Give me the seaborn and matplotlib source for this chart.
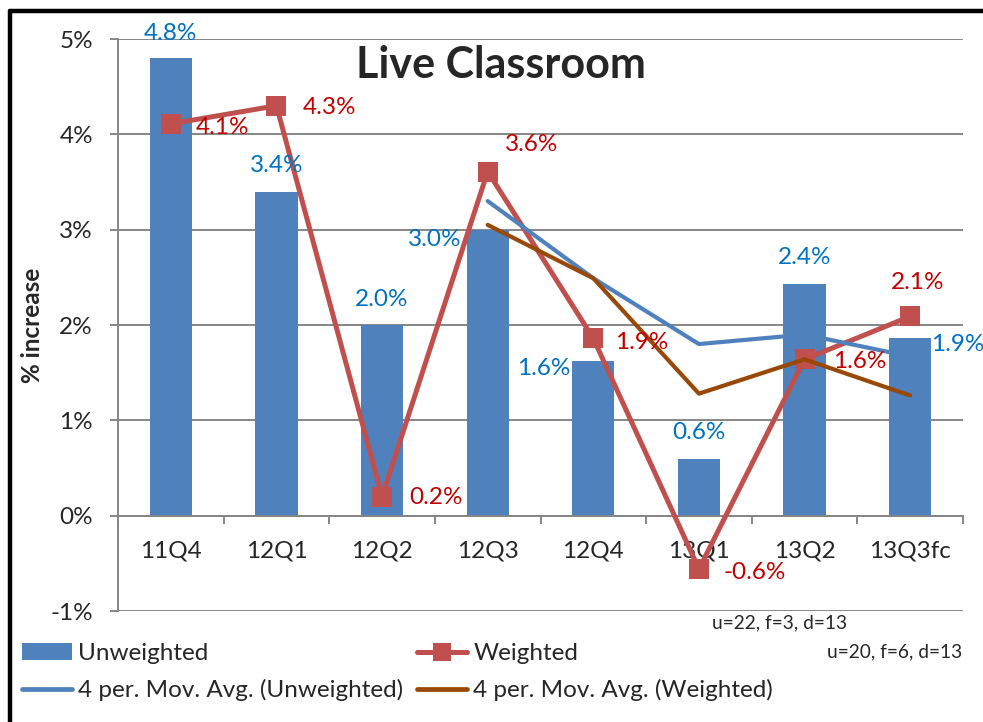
import numpy as np
import matplotlib
matplotlib.use("Agg")
import matplotlib.pyplot as plt
from matplotlib.lines import Line2D
from matplotlib.patches import Patch
import seaborn as sns

# ---- data -------------------------------------------------------------
quarters = ["11Q4", "12Q1", "12Q2", "12Q3", "12Q4", "13Q1", "13Q2", "13Q3fc"]
unweighted = [4.80, 3.40, 2.00, 3.00, 1.62, 0.59, 2.43, 1.86]
weighted = [4.11, 4.30, 0.20, 3.61, 1.86, -0.56, 1.64, 2.09]
ma_unweighted = [np.nan, np.nan, np.nan, 3.30, 2.49, 1.80, 1.90, 1.67]
ma_weighted = [np.nan, np.nan, np.nan, 3.05, 2.49, 1.28, 1.64, 1.26]
y_ticks = [-1, 0, 1, 2, 3, 4, 5]
sample_notes = ["u=22, f=3, d=13", "u=20, f=6, d=13"]

# ---- styling ----------------------------------------------------------
sns.set_style("white")
plt.rcParams["font.family"] = ["Lato", "DejaVu Sans"]

BAR = "#4F81BD"
RED = "#C0504D"
BROWN = "#984807"
LBL_BLUE = "#0070C0"
LBL_RED = "#C00000"
GRID = "#868686"
FS = 17.5

# label offsets in pixels (dx, dy up, horizontal alignment)
u_offsets = [(0, 25, "center"), (0, 26, "center"), (0, 25, "center"),
             (-53, -10, "center"), (-50, -7, "center"), (0, 27, "center"),
             (0, 27, "center"), (21, -6, "left")]
w_offsets = [(25, -4, "left"), (26, -2, "left"), (27, -1, "left"),
             (44, 27, "center"), (22, -4, "left"), (25, -3, "left"),
             (28, -2, "left"), (7, 34, "center")]

W, H = 983, 722
fig = plt.figure(figsize=(W / 100, H / 100), dpi=100)
ax = fig.add_axes([118 / W, 1 - 611 / H, 845 / W, 572 / H])

pos = np.arange(len(quarters))

sns.barplot(x=quarters, y=unweighted, color=BAR, saturation=1, width=0.4,
            ax=ax, zorder=2, linewidth=0)

sns.lineplot(x=pos, y=weighted, color=RED, linewidth=3.6, marker="s",
             markersize=14.5, markeredgewidth=0, ax=ax, zorder=3)

mu = np.array(ma_unweighted)
mw = np.array(ma_weighted)
ok_u = ~np.isnan(mu)
ok_w = ~np.isnan(mw)
sns.lineplot(x=pos[ok_u], y=mu[ok_u], color=BAR, linewidth=3.0, ax=ax, zorder=4)
sns.lineplot(x=pos[ok_w], y=mw[ok_w], color=BROWN, linewidth=3.0, ax=ax, zorder=4)

# data labels
for i, (v, (dx, dy, ha)) in enumerate(zip(unweighted, u_offsets)):
    ax.annotate(f"{v:.1f}%", xy=(i, v), xytext=(dx, dy),
                textcoords="offset pixels", ha=ha, va="center",
                color=LBL_BLUE, fontsize=FS, zorder=6, annotation_clip=False)
for i, (v, (dx, dy, ha)) in enumerate(zip(weighted, w_offsets)):
    ax.annotate(f"{v:.1f}%", xy=(i, v), xytext=(dx, dy),
                textcoords="offset pixels", ha=ha, va="center",
                color=LBL_RED, fontsize=FS, zorder=6, annotation_clip=False)

# axes
ax.set_xlim(-0.5, len(quarters) - 0.5)
ax.set_ylim(-1, 5)
ax.set_yticks(y_ticks)
ax.set_yticklabels([f"{t}%" for t in y_ticks])
ax.yaxis.grid(True, color=GRID, linewidth=1.4, zorder=0)
ax.xaxis.grid(False)
ax.set_axisbelow(True)

for s in ["top", "right"]:
    ax.spines[s].set_visible(False)
ax.spines["left"].set_color(GRID)
ax.spines["left"].set_linewidth(1.4)
ax.spines["bottom"].set_position(("data", 0))
ax.spines["bottom"].set_color(GRID)
ax.spines["bottom"].set_linewidth(1.4)

ax.tick_params(axis="y", which="major", left=True, length=6, width=1.4,
               color=GRID, labelsize=FS, pad=12, direction="out")
ax.set_xticks(pos)
ax.set_xticklabels(quarters)
ax.set_xticks(np.arange(-0.5, len(quarters), 1.0), minor=True)
ax.tick_params(axis="x", which="major", length=0, labelsize=FS, pad=18)
ax.tick_params(axis="x", which="minor", bottom=True, length=6, width=1.4,
               color=GRID, direction="out")
ax.set_xlabel("")

ax.set_ylabel("% increase", fontsize=FS, fontweight="bold")
ax.yaxis.set_label_coords(-0.087, 0.5)

# title
fig.text(501 / W, 1 - 78 / H, "Live Classroom", ha="center", va="baseline",
         fontsize=31, fontweight="bold")

# sample size notes
fig.text(847 / W, 1 - 623 / H, sample_notes[0], ha="right", va="center", fontsize=13.8)
fig.text(962 / W, 1 - 652 / H, sample_notes[1], ha="right", va="center", fontsize=13.8)

# legends (two columns placed independently)
h_unw = Patch(facecolor=BAR, edgecolor="none")
h_w = Line2D([], [], color=RED, linewidth=3.6, marker="s", markersize=13,
             markeredgewidth=0)
h_mu = Line2D([], [], color=BAR, linewidth=3.4)
h_mw = Line2D([], [], color=BROWN, linewidth=3.4)

leg_kw = dict(frameon=False, fontsize=FS, handlelength=2.06, handletextpad=0.25,
              borderpad=0, borderaxespad=0, labelspacing=0.62, loc="upper left")
leg1 = fig.legend([h_unw, h_mu],
                  ["Unweighted", "4 per. Mov. Avg. (Unweighted)"],
                  bbox_to_anchor=(22 / W, 1 - 643 / H), **leg_kw)
leg2 = fig.legend([h_w, h_mw],
                  ["Weighted", "4 per. Mov. Avg. (Weighted)"],
                  bbox_to_anchor=(417 / W, 1 - 643 / H), **leg_kw)

# outer frame (left and top edges)
fig.add_artist(Line2D([10 / W, 10 / W], [0, 1 - 11 / H], color="black",
                      linewidth=3.2, transform=fig.transFigure))
fig.add_artist(Line2D([10 / W, 1], [1 - 11 / H, 1 - 11 / H], color="black",
                      linewidth=3.2, transform=fig.transFigure))

fig.savefig("out.png", dpi=100)
